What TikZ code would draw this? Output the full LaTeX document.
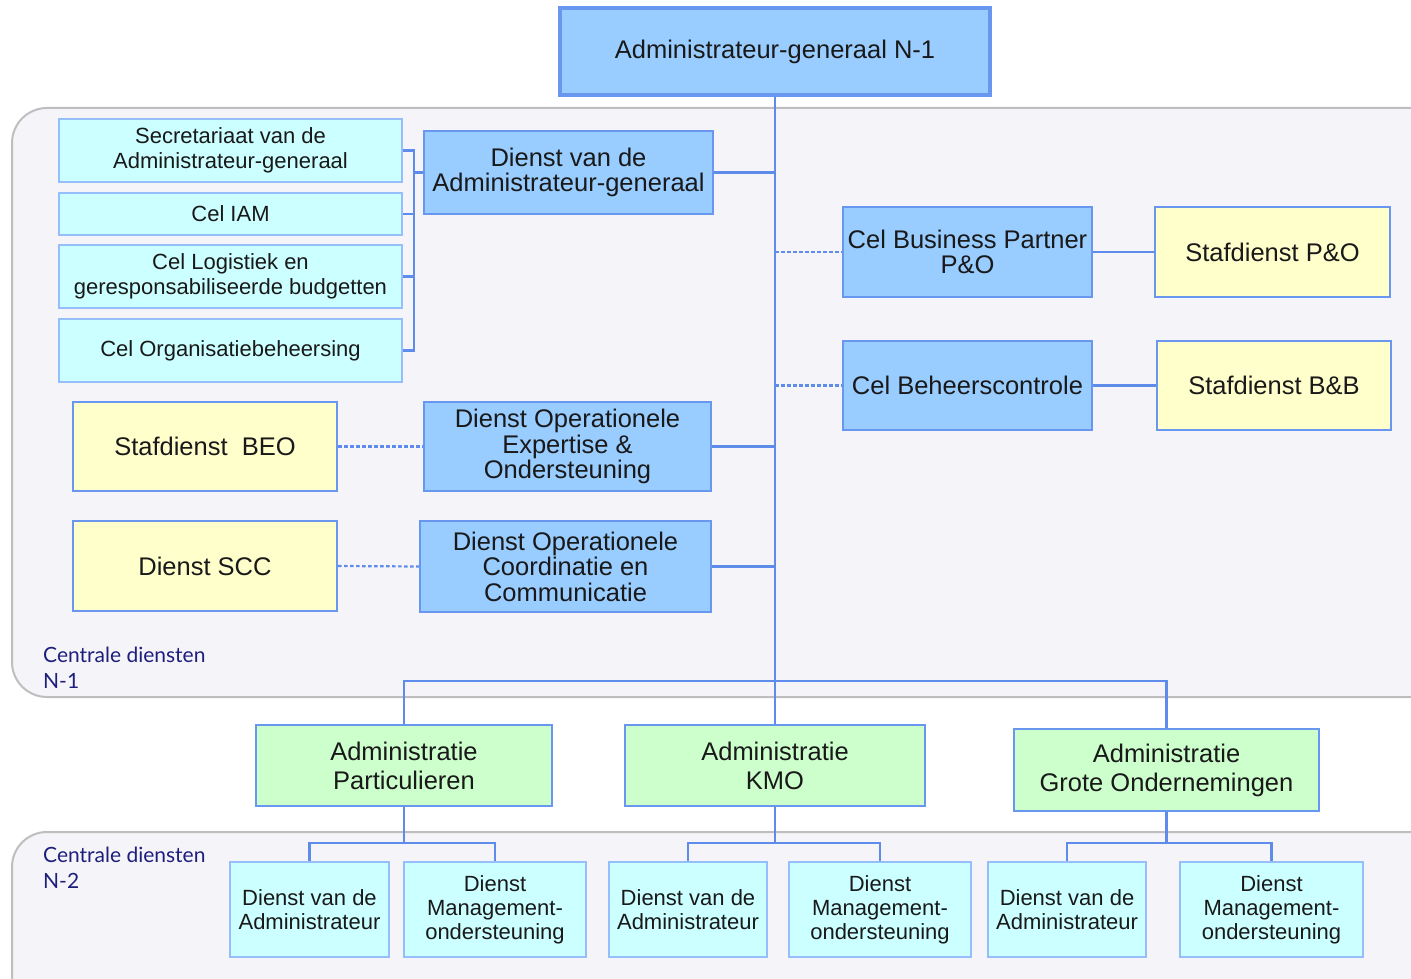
\documentclass[tikz,border=0pt]{standalone}
\usepackage{fontspec}
\setmainfont{Liberation Sans}
\newfontfamily\labelfont{Lato}
\definecolor{bordc}{RGB}{105,150,238}
\definecolor{lightbord}{RGB}{150,190,250}
\definecolor{linec}{RGB}{95,140,235}
\definecolor{bluefill}{RGB}{153,204,255}
\definecolor{cyanfill}{RGB}{204,255,255}
\definecolor{yellowfill}{RGB}{255,255,204}
\definecolor{greenfill}{RGB}{204,255,204}
\definecolor{panelfill}{RGB}{245,245,249}
\definecolor{panelbord}{RGB}{190,190,190}
\definecolor{navy}{RGB}{30,30,125}
\definecolor{txt}{RGB}{25,25,25}
\tikzset{
  basebox/.style={draw=bordc, line width=2.2pt, inner sep=0pt, align=center, text=txt},
  bigtext/.style={font=\fontsize{25.5}{25.5}\selectfont},
  smalltext/.style={font=\fontsize{22}{25}\selectfont},
  bluebox/.style={basebox, fill=bluefill, bigtext},
  yellowbox/.style={basebox, fill=yellowfill, bigtext},
  cyanbox/.style={basebox, draw=lightbord, fill=cyanfill, smalltext},
  lowbox/.style={basebox, draw=lightbord, fill=cyanfill, font=\fontsize{22}{24}\selectfont},
  greenbox/.style={basebox, fill=greenfill, font=\fontsize{25.5}{29}\selectfont},
  conn/.style={draw=linec, line width=2.4pt},
  dotconn/.style={draw=linec, line width=2.2pt, dash pattern=on 3.5pt off 2.5pt},
  panel/.style={fill=panelfill, draw=panelbord, line width=2pt, rounded corners=35pt},
  grouplabel/.style={anchor=north west, align=left, text=navy, inner sep=0pt, font=\labelfont\fontsize{21}{26}\selectfont}
}
\begin{document}
\begin{tikzpicture}[x=1pt, y=-1pt]
\fill[white] (0,0) rectangle (1411,979);
\useasboundingbox (0,0) rectangle (1411,979);
\clip (0,0) rectangle (1411,979);
% panels
\path[panel] (12,108) rectangle (1460,697);
\path[panel] (12,832) rectangle (1460,1030);
\node[grouplabel] (lab1) at (43,647) {Centrale diensten\\N-1};
\node[grouplabel] (lab2) at (43,847) {Centrale diensten\\N-2};

% top
\node[bluebox, line width=4.5pt, minimum width=430pt, minimum height=87pt] (top) at (775,51.5) {Administrateur-generaal N-1};

% left cyan cells
\node[cyanbox, minimum width=343pt, minimum height=63pt] (sec) at (230.5,150.5) {Secretariaat van de\\Administrateur-generaal};
\node[cyanbox, minimum width=343pt, minimum height=42pt] (iam) at (230.5,214) {Cel IAM};
\node[cyanbox, minimum width=343pt, minimum height=63pt] (log) at (230.5,276.5) {Cel Logistiek en\\geresponsabiliseerde budgetten};
\node[cyanbox, minimum width=343pt, minimum height=63pt] (org) at (230.5,350.5) {Cel Organisatiebeheersing};

\node[bluebox, minimum width=289pt, minimum height=83pt] (dag) at (568.5,172.5) {Dienst van de\\Administrateur-generaal};

% right side
\node[bluebox, minimum width=249pt, minimum height=90pt] (cbp) at (967.5,252) {Cel Business Partner\\P\&O};
\node[yellowbox, minimum width=235pt, minimum height=90pt] (spo) at (1272.5,252) {Stafdienst P\&O};
\node[bluebox, minimum width=249pt, minimum height=89pt] (cbc) at (967.5,385.5) {Cel Beheerscontrole};
\node[yellowbox, minimum width=234pt, minimum height=89pt] (sbb) at (1274,385.5) {Stafdienst B\&B};

% left lower
\node[yellowbox, minimum width=264pt, minimum height=89pt] (beo) at (205,446.5) {Stafdienst\ \ BEO};
\node[bluebox, minimum width=287pt, minimum height=89pt] (doe) at (567.5,446.5) {Dienst Operationele\\Expertise \&\\Ondersteuning};
\node[yellowbox, minimum width=264pt, minimum height=90pt] (scc) at (205,566) {Dienst SCC};
\node[bluebox, minimum width=291pt, minimum height=91pt] (doc) at (565.5,566.5) {Dienst Operationele\\Coordinatie en\\Communicatie};

% administrations
\node[greenbox, minimum width=296pt, minimum height=81pt] (admp) at (404,765.5) {Administratie\\Particulieren};
\node[greenbox, minimum width=300pt, minimum height=81pt] (admk) at (775,765.5) {Administratie\\KMO};
\node[greenbox, minimum width=305pt, minimum height=82pt] (admg) at (1166.5,770) {Administratie\\Grote Ondernemingen};

% N-2 boxes
\node[lowbox, minimum width=159pt, minimum height=95pt] (p1) at (309.5,909.5) {Dienst van de\\Administrateur};
\node[lowbox, minimum width=182pt, minimum height=95pt] (p2) at (495,909.5) {Dienst\\Management-\\ondersteuning};
\node[lowbox, minimum width=158pt, minimum height=95pt] (k1) at (688,909.5) {Dienst van de\\Administrateur};
\node[lowbox, minimum width=182pt, minimum height=95pt] (k2) at (880,909.5) {Dienst\\Management-\\ondersteuning};
\node[lowbox, minimum width=158pt, minimum height=95pt] (g1) at (1067,909.5) {Dienst van de\\Administrateur};
\node[lowbox, minimum width=183pt, minimum height=95pt] (g2) at (1271.5,909.5) {Dienst\\Management-\\ondersteuning};

% coordinates
\coordinate (bx) at (414,0);
\coordinate (bus) at (775,681);
\coordinate (low) at (0,843);

% spine
\draw[conn] (top.south) -- (admk.north);
% bracket
\draw[conn] (sec.east) -- (sec.east -| bx) -- (org.east -| bx) -- (org.east);
\draw[conn] (iam.east) -- (iam.east -| bx);
\draw[conn] (log.east) -- (log.east -| bx);
\draw[conn] (dag.west -| bx) -- (dag.west);
% branches
\draw[conn] (dag.east) -- (dag.east -| top.south);
\draw[conn] (doe.east) -- (doe.east -| top.south);
\draw[conn] (doc.east) -- (doc.east -| top.south);
\draw[dotconn] (cbp.west -| top.south) -- (cbp.west);
\draw[dotconn] (cbc.west -| top.south) -- (cbc.west);
\draw[conn] (cbp.east) -- (spo.west);
\draw[conn] (cbc.east) -- (sbb.west);
\draw[dotconn] (beo.east) -- (doe.west);
\draw[dotconn] (scc.east) -- (doc.west);
% bus
\draw[conn] (admp.north) -- (admp.north |- bus) -- (admg.north |- bus) -- (admg.north);
% lower
\draw[conn] (admp.south) -- (admp.south |- low);
\draw[conn] (p1.north) -- (p1.north |- low) -- (p2.north |- low) -- (p2.north);
\draw[conn] (admk.south) -- (admk.south |- low);
\draw[conn] (k1.north) -- (k1.north |- low) -- (k2.north |- low) -- (k2.north);
\draw[conn] (admg.south) -- (admg.south |- low);
\draw[conn] (g1.north) -- (g1.north |- low) -- (g2.north |- low) -- (g2.north);
\end{tikzpicture}
\end{document}
